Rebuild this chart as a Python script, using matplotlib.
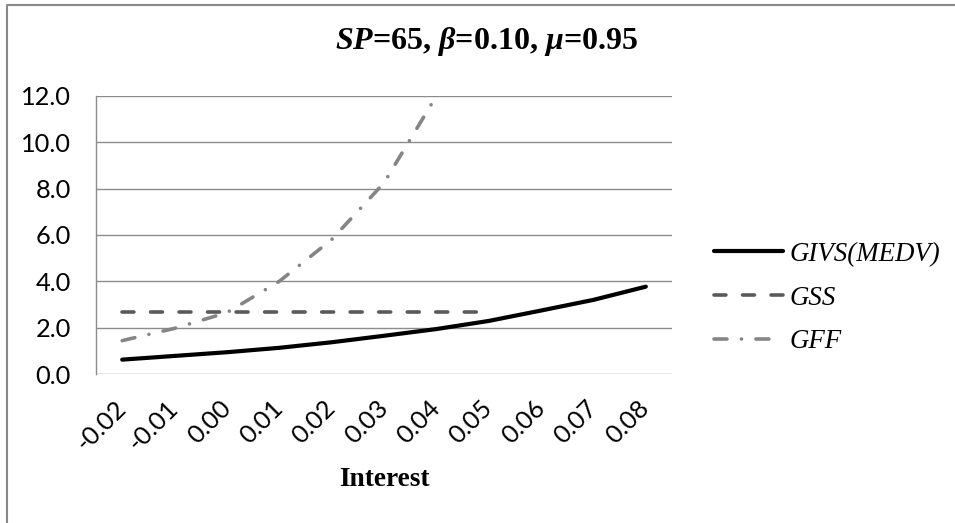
import matplotlib
matplotlib.use("Agg")
import matplotlib.pyplot as plt
from matplotlib.lines import Line2D

# values
interest = ['-0.02', '-0.01', '0.00', '0.01', '0.02', '0.03', '0.04', '0.05', '0.06', '0.07', '0.08']
givs = [0.62, 0.78, 0.94, 1.13, 1.37, 1.65, 1.94, 2.29, 2.74, 3.20, 3.77]
gss = [2.68, 2.68, 2.68, 2.68, 2.68, 2.68, 2.68, 2.68]
gff = [1.44, 1.97, 2.65, 4.00, 5.80, 8.25, 12.00]
yticks = [0.0, 2.0, 4.0, 6.0, 8.0, 10.0, 12.0]

plt.rcParams['mathtext.fontset'] = 'custom'
plt.rcParams['mathtext.it'] = 'Liberation Serif:italic:bold'
plt.rcParams['mathtext.rm'] = 'Liberation Serif:bold'
plt.rcParams['mathtext.bf'] = 'Liberation Serif:bold'

W, H = 955, 523
fig = plt.figure(figsize=(W / 100, H / 100), dpi=100)
ax = fig.add_axes([96 / W, 1 - 374 / H, (672 - 96) / W, (374 - 96) / H])

grid_col = '#8c8c8c'
ax.plot(range(len(givs)), givs, color='black', lw=3.0, solid_capstyle='round',
        label='GIVS(MEDV)')
ax.plot(range(len(gss)), gss, color='#5a5a5a', lw=2.6, dashes=(3.3, 4.6),
        dash_capstyle='round', label='GSS')
ax.plot(range(len(gff)), gff, color='#858585', lw=2.6, dashes=(3.6, 4.0, 0.01, 4.0),
        dash_capstyle='round', label='GFF')

ax.set_xlim(-0.5, len(interest) - 0.5)
ax.set_ylim(0, 12)
ax.set_yticks(yticks)
ax.set_yticklabels([f'{v:.1f}' for v in yticks], fontfamily='Lato', fontsize=18.3)
ax.set_xticks(range(len(interest)))
ax.set_xticklabels(interest, fontfamily='Lato', fontsize=18.3, rotation=45,
                   ha='right', va='center', rotation_mode='anchor')
ax.tick_params(axis='y', length=0, pad=18)
ax.tick_params(axis='x', length=0, pad=22)
ax.grid(axis='y', color=grid_col, lw=1.0)
ax.set_axisbelow(True)
for s in ['top', 'right', 'bottom']:
    ax.spines[s].set_visible(False)
ax.spines['left'].set_color(grid_col)
ax.spines['left'].set_linewidth(1.0)

leg = ax.legend(loc='center left', bbox_to_anchor=(714 / W, 1 - 298 / H),
                bbox_transform=fig.transFigure, frameon=False, borderpad=0,
                borderaxespad=0, handlelength=2.55, handletextpad=0.25,
                labelspacing=0.7,
                prop={'family': 'Liberation Serif', 'style': 'italic', 'size': 19.4})

fig.text(486 / W, 1 - 41 / H, r'$SP$=65, $\beta$=0.10, $\mu$=0.95',
         ha='center', va='center', fontfamily='Liberation Serif',
         fontweight='bold', fontsize=23)
fig.text(384 / W, 1 - 479 / H, 'Interest', ha='center', va='center',
         fontfamily='Liberation Serif', fontweight='bold', fontsize=19.7)

# outer chart border (only top and left visible in the crop)
fig.add_artist(Line2D([7 / W, 7 / W, 1.0], [0.0, 1 - 5 / H, 1 - 5 / H],
                      transform=fig.transFigure, color='#898989', lw=1.5))

fig.savefig('out.png', dpi=100)
